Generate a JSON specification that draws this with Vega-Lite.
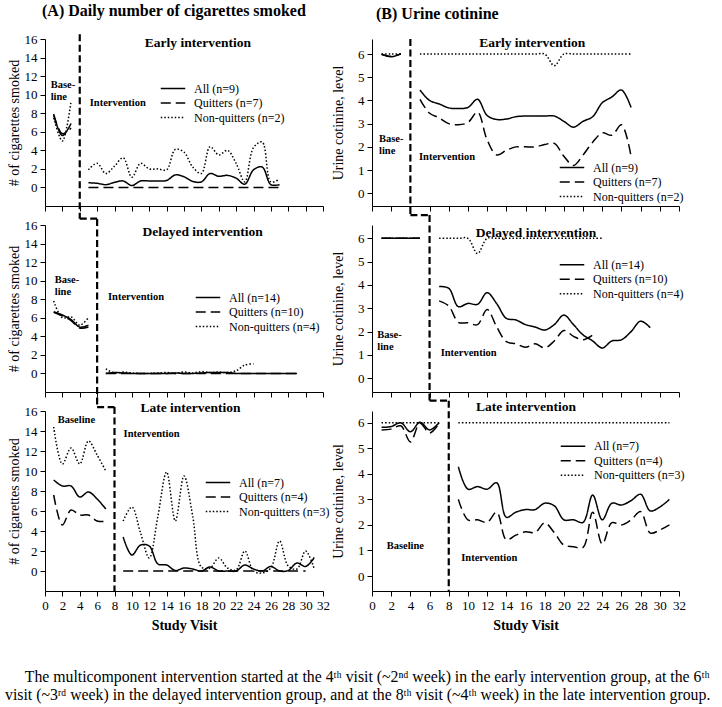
{
"$schema": "https://vega.github.io/schema/vega-lite/v6.json",
"padding": {"left": 5, "top": 3, "right": 0, "bottom": 5},
"config": {
  "font": "Liberation Serif",
  "view": {"stroke": null},
  "style": {"guide-label": {"font": "Liberation Serif"}, "guide-title": {"font": "Liberation Serif"}},
  "axis": {"grid": false, "domainColor": "#000", "tickColor": "#000", "labelColor": "#000", "titleColor": "#000", "labelFont": "Liberation Serif", "titleFont": "Liberation Serif", "labelFontSize": 13, "titleFontSize": 14, "titleFontWeight": "normal", "tickSize": 5, "labelPadding": 3, "labelFlush": false, "labelOverlap": false, "tickCount": 40, "format": "d"},
  "legend": {"orient": "none", "symbolType": "stroke", "symbolSize": 600, "symbolStrokeWidth": 1.5, "symbolStrokeColor": "#000", "labelFontSize": 12, "labelFont": "Liberation Serif", "labelColor": "#000", "rowPadding": 1.5, "clipHeight": 13, "labelOffset": 8, "padding": 0},
  "title": {"font": "Liberation Serif", "fontSize": 16, "fontWeight": "bold", "color": "#000", "offset": 14},
  "text": {"font": "Liberation Serif", "fontWeight": "bold", "fontSize": 10.5, "align": "left", "baseline": "middle", "color": "#000"}
},
"title": {"text": ["\u200b\u00a0\u00a0\u00a0\u00a0\u00a0The multicomponent intervention started at the 4\u1d57\u02b0 visit  (~2\u207f\u1d48 week) in the early intervention group, at the 6\u1d57\u02b0", "visit (~3\u02b3\u1d48 week) in the delayed intervention group, and at the 8\u1d57\u02b0 visit (~4\u1d57\u02b0 week) in the late intervention group."], "orient": "bottom", "anchor": "start", "fontSize": 15.8, "fontWeight": "normal", "lineHeight": 17.5, "offset": 38, "dx": -2},
"datasets": {
"cig": [
{"g":"E","s":"A","p":"b","v":1,"y":7.8},{"g":"E","s":"A","p":"b","v":2,"y":5.6},{"g":"E","s":"A","p":"b","v":3,"y":6.9},
{"g":"E","s":"Q","p":"b","v":1,"y":7.9},{"g":"E","s":"Q","p":"b","v":2,"y":5.8},{"g":"E","s":"Q","p":"b","v":3,"y":6.4},
{"g":"E","s":"N","p":"b","v":1,"y":7.5},{"g":"E","s":"N","p":"b","v":2,"y":5.0},{"g":"E","s":"N","p":"b","v":3,"y":9.3},
{"g":"E","s":"A","p":"i","v":5,"y":0.5},{"g":"E","s":"A","p":"i","v":6,"y":0.45},{"g":"E","s":"A","p":"i","v":7,"y":0.3},{"g":"E","s":"A","p":"i","v":8,"y":0.55},{"g":"E","s":"A","p":"i","v":9,"y":0.7},{"g":"E","s":"A","p":"i","v":10,"y":0.2},{"g":"E","s":"A","p":"i","v":11,"y":0.7},{"g":"E","s":"A","p":"i","v":12,"y":0.7},{"g":"E","s":"A","p":"i","v":13,"y":0.7},{"g":"E","s":"A","p":"i","v":14,"y":0.75},{"g":"E","s":"A","p":"i","v":15,"y":1.35},{"g":"E","s":"A","p":"i","v":16,"y":1.15},{"g":"E","s":"A","p":"i","v":17,"y":0.65},{"g":"E","s":"A","p":"i","v":18,"y":0.6},{"g":"E","s":"A","p":"i","v":19,"y":1.5},{"g":"E","s":"A","p":"i","v":20,"y":1.2},{"g":"E","s":"A","p":"i","v":21,"y":1.3},{"g":"E","s":"A","p":"i","v":22,"y":1.0},{"g":"E","s":"A","p":"i","v":23,"y":0.35},{"g":"E","s":"A","p":"i","v":24,"y":1.9},{"g":"E","s":"A","p":"i","v":25,"y":2.2},{"g":"E","s":"A","p":"i","v":26,"y":0.3},{"g":"E","s":"A","p":"i","v":27,"y":0.3},
{"g":"E","s":"Q","p":"i","v":5,"y":0},{"g":"E","s":"Q","p":"i","v":6,"y":0},{"g":"E","s":"Q","p":"i","v":7,"y":0},{"g":"E","s":"Q","p":"i","v":8,"y":0},{"g":"E","s":"Q","p":"i","v":9,"y":0},{"g":"E","s":"Q","p":"i","v":10,"y":0},{"g":"E","s":"Q","p":"i","v":11,"y":0},{"g":"E","s":"Q","p":"i","v":12,"y":0},{"g":"E","s":"Q","p":"i","v":13,"y":0},{"g":"E","s":"Q","p":"i","v":14,"y":0},{"g":"E","s":"Q","p":"i","v":15,"y":0},{"g":"E","s":"Q","p":"i","v":16,"y":0},{"g":"E","s":"Q","p":"i","v":17,"y":0},{"g":"E","s":"Q","p":"i","v":18,"y":0},{"g":"E","s":"Q","p":"i","v":19,"y":0},{"g":"E","s":"Q","p":"i","v":20,"y":0},{"g":"E","s":"Q","p":"i","v":21,"y":0},{"g":"E","s":"Q","p":"i","v":22,"y":0},{"g":"E","s":"Q","p":"i","v":23,"y":0},{"g":"E","s":"Q","p":"i","v":24,"y":0},{"g":"E","s":"Q","p":"i","v":25,"y":0},{"g":"E","s":"Q","p":"i","v":26,"y":0},{"g":"E","s":"Q","p":"i","v":27,"y":0},
{"g":"E","s":"N","p":"i","v":5,"y":1.9},{"g":"E","s":"N","p":"i","v":6,"y":2.6},{"g":"E","s":"N","p":"i","v":7,"y":1.5},{"g":"E","s":"N","p":"i","v":8,"y":2.3},{"g":"E","s":"N","p":"i","v":9,"y":3.2},{"g":"E","s":"N","p":"i","v":10,"y":1.1},{"g":"E","s":"N","p":"i","v":11,"y":2.6},{"g":"E","s":"N","p":"i","v":12,"y":2.0},{"g":"E","s":"N","p":"i","v":13,"y":2.0},{"g":"E","s":"N","p":"i","v":14,"y":1.9},{"g":"E","s":"N","p":"i","v":15,"y":4.1},{"g":"E","s":"N","p":"i","v":16,"y":3.8},{"g":"E","s":"N","p":"i","v":17,"y":2.2},{"g":"E","s":"N","p":"i","v":18,"y":1.5},{"g":"E","s":"N","p":"i","v":19,"y":4.4},{"g":"E","s":"N","p":"i","v":20,"y":3.5},{"g":"E","s":"N","p":"i","v":21,"y":4.0},{"g":"E","s":"N","p":"i","v":22,"y":2.6},{"g":"E","s":"N","p":"i","v":23,"y":0.6},{"g":"E","s":"N","p":"i","v":24,"y":4.3},{"g":"E","s":"N","p":"i","v":25,"y":4.9},{"g":"E","s":"N","p":"i","v":26,"y":0.6},{"g":"E","s":"N","p":"i","v":27,"y":0.9},
{"g":"D","s":"A","p":"b","v":1,"y":6.65},{"g":"D","s":"A","p":"b","v":2,"y":6.3},{"g":"D","s":"A","p":"b","v":3,"y":5.8},{"g":"D","s":"A","p":"b","v":4,"y":5.0},{"g":"D","s":"A","p":"b","v":5,"y":5.2},
{"g":"D","s":"Q","p":"b","v":1,"y":6.6},{"g":"D","s":"Q","p":"b","v":2,"y":6.2},{"g":"D","s":"Q","p":"b","v":3,"y":5.7},{"g":"D","s":"Q","p":"b","v":4,"y":4.9},{"g":"D","s":"Q","p":"b","v":5,"y":5.0},
{"g":"D","s":"N","p":"b","v":1,"y":7.8},{"g":"D","s":"N","p":"b","v":2,"y":6.0},{"g":"D","s":"N","p":"b","v":3,"y":6.1},{"g":"D","s":"N","p":"b","v":4,"y":5.2},{"g":"D","s":"N","p":"b","v":5,"y":6.0},
{"g":"D","s":"A","p":"i","v":7,"y":0},{"g":"D","s":"A","p":"i","v":8,"y":0.1},{"g":"D","s":"A","p":"i","v":9,"y":0.05},{"g":"D","s":"A","p":"i","v":10,"y":0},{"g":"D","s":"A","p":"i","v":11,"y":0},{"g":"D","s":"A","p":"i","v":12,"y":0},{"g":"D","s":"A","p":"i","v":13,"y":0},{"g":"D","s":"A","p":"i","v":14,"y":0},{"g":"D","s":"A","p":"i","v":15,"y":0.05},{"g":"D","s":"A","p":"i","v":16,"y":0},{"g":"D","s":"A","p":"i","v":17,"y":0},{"g":"D","s":"A","p":"i","v":18,"y":0.05},{"g":"D","s":"A","p":"i","v":19,"y":0.1},{"g":"D","s":"A","p":"i","v":20,"y":0.1},{"g":"D","s":"A","p":"i","v":21,"y":0.1},{"g":"D","s":"A","p":"i","v":22,"y":0},{"g":"D","s":"A","p":"i","v":23,"y":0},{"g":"D","s":"A","p":"i","v":24,"y":0},{"g":"D","s":"A","p":"i","v":25,"y":0},{"g":"D","s":"A","p":"i","v":26,"y":0},{"g":"D","s":"A","p":"i","v":27,"y":0},{"g":"D","s":"A","p":"i","v":28,"y":0},{"g":"D","s":"A","p":"i","v":29,"y":0},
{"g":"D","s":"Q","p":"i","v":7,"y":0},{"g":"D","s":"Q","p":"i","v":8,"y":0},{"g":"D","s":"Q","p":"i","v":9,"y":0},{"g":"D","s":"Q","p":"i","v":10,"y":0},{"g":"D","s":"Q","p":"i","v":11,"y":0},{"g":"D","s":"Q","p":"i","v":12,"y":0},{"g":"D","s":"Q","p":"i","v":13,"y":0},{"g":"D","s":"Q","p":"i","v":14,"y":0},{"g":"D","s":"Q","p":"i","v":15,"y":0},{"g":"D","s":"Q","p":"i","v":16,"y":0},{"g":"D","s":"Q","p":"i","v":17,"y":0},{"g":"D","s":"Q","p":"i","v":18,"y":0},{"g":"D","s":"Q","p":"i","v":19,"y":0},{"g":"D","s":"Q","p":"i","v":20,"y":0},{"g":"D","s":"Q","p":"i","v":21,"y":0},{"g":"D","s":"Q","p":"i","v":22,"y":0},{"g":"D","s":"Q","p":"i","v":23,"y":0},{"g":"D","s":"Q","p":"i","v":24,"y":0},{"g":"D","s":"Q","p":"i","v":25,"y":0},{"g":"D","s":"Q","p":"i","v":26,"y":0},{"g":"D","s":"Q","p":"i","v":27,"y":0},{"g":"D","s":"Q","p":"i","v":28,"y":0},{"g":"D","s":"Q","p":"i","v":29,"y":0},
{"g":"D","s":"N","p":"i","v":7,"y":0.5},{"g":"D","s":"N","p":"i","v":8,"y":0.05},{"g":"D","s":"N","p":"i","v":9,"y":0.15},{"g":"D","s":"N","p":"i","v":10,"y":0.05},{"g":"D","s":"N","p":"i","v":11,"y":0},{"g":"D","s":"N","p":"i","v":12,"y":0},{"g":"D","s":"N","p":"i","v":13,"y":0.05},{"g":"D","s":"N","p":"i","v":14,"y":0.1},{"g":"D","s":"N","p":"i","v":15,"y":0},{"g":"D","s":"N","p":"i","v":16,"y":0.15},{"g":"D","s":"N","p":"i","v":17,"y":0.05},{"g":"D","s":"N","p":"i","v":18,"y":0.2},{"g":"D","s":"N","p":"i","v":19,"y":0.1},{"g":"D","s":"N","p":"i","v":20,"y":0.15},{"g":"D","s":"N","p":"i","v":21,"y":0.1},{"g":"D","s":"N","p":"i","v":22,"y":0.3},{"g":"D","s":"N","p":"i","v":23,"y":0.9},{"g":"D","s":"N","p":"i","v":24,"y":1.05},
{"g":"L","s":"A","p":"b","v":1,"y":9.1},{"g":"L","s":"A","p":"b","v":2,"y":8.5},{"g":"L","s":"A","p":"b","v":3,"y":8.5},{"g":"L","s":"A","p":"b","v":4,"y":7.4},{"g":"L","s":"A","p":"b","v":5,"y":7.9},{"g":"L","s":"A","p":"b","v":6,"y":7.2},{"g":"L","s":"A","p":"b","v":7,"y":6.2},
{"g":"L","s":"Q","p":"b","v":1,"y":7.6},{"g":"L","s":"Q","p":"b","v":2,"y":4.6},{"g":"L","s":"Q","p":"b","v":3,"y":6.1},{"g":"L","s":"Q","p":"b","v":4,"y":5.6},{"g":"L","s":"Q","p":"b","v":5,"y":5.6},{"g":"L","s":"Q","p":"b","v":6,"y":5.0},{"g":"L","s":"Q","p":"b","v":7,"y":4.95},
{"g":"L","s":"N","p":"b","v":1,"y":14.4},{"g":"L","s":"N","p":"b","v":2,"y":10.7},{"g":"L","s":"N","p":"b","v":3,"y":12.3},{"g":"L","s":"N","p":"b","v":4,"y":10.7},{"g":"L","s":"N","p":"b","v":5,"y":13.0},{"g":"L","s":"N","p":"b","v":6,"y":11.6},{"g":"L","s":"N","p":"b","v":7,"y":10.0},
{"g":"L","s":"A","p":"i","v":9,"y":3.4},{"g":"L","s":"A","p":"i","v":10,"y":1.6},{"g":"L","s":"A","p":"i","v":11,"y":2.6},{"g":"L","s":"A","p":"i","v":12,"y":2.5},{"g":"L","s":"A","p":"i","v":13,"y":0.7},{"g":"L","s":"A","p":"i","v":14,"y":0.6},{"g":"L","s":"A","p":"i","v":15,"y":0.05},{"g":"L","s":"A","p":"i","v":16,"y":0.3},{"g":"L","s":"A","p":"i","v":17,"y":0.2},{"g":"L","s":"A","p":"i","v":18,"y":0},{"g":"L","s":"A","p":"i","v":19,"y":0.4},{"g":"L","s":"A","p":"i","v":20,"y":0},{"g":"L","s":"A","p":"i","v":21,"y":0},{"g":"L","s":"A","p":"i","v":22,"y":0},{"g":"L","s":"A","p":"i","v":23,"y":0.6},{"g":"L","s":"A","p":"i","v":24,"y":0.2},{"g":"L","s":"A","p":"i","v":25,"y":0},{"g":"L","s":"A","p":"i","v":26,"y":0.45},{"g":"L","s":"A","p":"i","v":27,"y":0},{"g":"L","s":"A","p":"i","v":28,"y":0.05},{"g":"L","s":"A","p":"i","v":29,"y":0.8},{"g":"L","s":"A","p":"i","v":30,"y":0.45},{"g":"L","s":"A","p":"i","v":31,"y":1.35},
{"g":"L","s":"Q","p":"i","v":9,"y":0},{"g":"L","s":"Q","p":"i","v":10,"y":0},{"g":"L","s":"Q","p":"i","v":11,"y":0},{"g":"L","s":"Q","p":"i","v":12,"y":0},{"g":"L","s":"Q","p":"i","v":13,"y":0},{"g":"L","s":"Q","p":"i","v":14,"y":0},{"g":"L","s":"Q","p":"i","v":15,"y":0},{"g":"L","s":"Q","p":"i","v":16,"y":0},{"g":"L","s":"Q","p":"i","v":17,"y":0},{"g":"L","s":"Q","p":"i","v":18,"y":0},{"g":"L","s":"Q","p":"i","v":19,"y":0},{"g":"L","s":"Q","p":"i","v":20,"y":0},{"g":"L","s":"Q","p":"i","v":21,"y":0},{"g":"L","s":"Q","p":"i","v":22,"y":0},{"g":"L","s":"Q","p":"i","v":23,"y":0},{"g":"L","s":"Q","p":"i","v":24,"y":0},{"g":"L","s":"Q","p":"i","v":25,"y":0},{"g":"L","s":"Q","p":"i","v":26,"y":0},{"g":"L","s":"Q","p":"i","v":27,"y":0},{"g":"L","s":"Q","p":"i","v":28,"y":0},{"g":"L","s":"Q","p":"i","v":29,"y":0},{"g":"L","s":"Q","p":"i","v":30,"y":0},
{"g":"L","s":"N","p":"i","v":9,"y":5.0},{"g":"L","s":"N","p":"i","v":10,"y":6.4},{"g":"L","s":"N","p":"i","v":11,"y":3.8},{"g":"L","s":"N","p":"i","v":12,"y":1.3},{"g":"L","s":"N","p":"i","v":13,"y":5.5},{"g":"L","s":"N","p":"i","v":14,"y":9.9},{"g":"L","s":"N","p":"i","v":15,"y":5.0},{"g":"L","s":"N","p":"i","v":16,"y":9.5},{"g":"L","s":"N","p":"i","v":17,"y":5.5},{"g":"L","s":"N","p":"i","v":18,"y":0.4},{"g":"L","s":"N","p":"i","v":19,"y":0.3},{"g":"L","s":"N","p":"i","v":20,"y":1.3},{"g":"L","s":"N","p":"i","v":21,"y":0.3},{"g":"L","s":"N","p":"i","v":22,"y":0.1},{"g":"L","s":"N","p":"i","v":23,"y":2.0},{"g":"L","s":"N","p":"i","v":24,"y":0},{"g":"L","s":"N","p":"i","v":25,"y":-0.2},{"g":"L","s":"N","p":"i","v":26,"y":0.3},{"g":"L","s":"N","p":"i","v":27,"y":3.0},{"g":"L","s":"N","p":"i","v":28,"y":0.5},{"g":"L","s":"N","p":"i","v":29,"y":0.2},{"g":"L","s":"N","p":"i","v":30,"y":2.0},{"g":"L","s":"N","p":"i","v":31,"y":0.2}
],
"cot": [
{"g":"E","s":"A","p":"b","v":1,"y":6.0},{"g":"E","s":"A","p":"b","v":2,"y":5.88},{"g":"E","s":"A","p":"b","v":3,"y":6.02},
{"g":"E","s":"Q","p":"b","v":1,"y":5.98},{"g":"E","s":"Q","p":"b","v":2,"y":5.9},{"g":"E","s":"Q","p":"b","v":3,"y":6.0},
{"g":"E","s":"N","p":"b","v":1,"y":6.0},{"g":"E","s":"N","p":"b","v":2,"y":6.0},{"g":"E","s":"N","p":"b","v":3,"y":6.0},
{"g":"E","s":"A","p":"i","v":5,"y":4.45},{"g":"E","s":"A","p":"i","v":6,"y":4.0},{"g":"E","s":"A","p":"i","v":7,"y":3.85},{"g":"E","s":"A","p":"i","v":8,"y":3.68},{"g":"E","s":"A","p":"i","v":9,"y":3.65},{"g":"E","s":"A","p":"i","v":10,"y":3.7},{"g":"E","s":"A","p":"i","v":11,"y":4.05},{"g":"E","s":"A","p":"i","v":12,"y":3.35},{"g":"E","s":"A","p":"i","v":13,"y":3.18},{"g":"E","s":"A","p":"i","v":14,"y":3.2},{"g":"E","s":"A","p":"i","v":15,"y":3.3},{"g":"E","s":"A","p":"i","v":16,"y":3.33},{"g":"E","s":"A","p":"i","v":17,"y":3.33},{"g":"E","s":"A","p":"i","v":18,"y":3.33},{"g":"E","s":"A","p":"i","v":19,"y":3.33},{"g":"E","s":"A","p":"i","v":20,"y":3.1},{"g":"E","s":"A","p":"i","v":21,"y":2.85},{"g":"E","s":"A","p":"i","v":22,"y":3.1},{"g":"E","s":"A","p":"i","v":23,"y":3.3},{"g":"E","s":"A","p":"i","v":24,"y":3.9},{"g":"E","s":"A","p":"i","v":25,"y":4.15},{"g":"E","s":"A","p":"i","v":26,"y":4.45},{"g":"E","s":"A","p":"i","v":27,"y":3.7},
{"g":"E","s":"Q","p":"i","v":5,"y":4.05},{"g":"E","s":"Q","p":"i","v":6,"y":3.45},{"g":"E","s":"Q","p":"i","v":7,"y":3.25},{"g":"E","s":"Q","p":"i","v":8,"y":3.0},{"g":"E","s":"Q","p":"i","v":9,"y":2.95},{"g":"E","s":"Q","p":"i","v":10,"y":3.05},{"g":"E","s":"Q","p":"i","v":11,"y":3.5},{"g":"E","s":"Q","p":"i","v":12,"y":2.3},{"g":"E","s":"Q","p":"i","v":13,"y":1.65},{"g":"E","s":"Q","p":"i","v":14,"y":1.85},{"g":"E","s":"Q","p":"i","v":15,"y":2.0},{"g":"E","s":"Q","p":"i","v":16,"y":2.0},{"g":"E","s":"Q","p":"i","v":17,"y":2.0},{"g":"E","s":"Q","p":"i","v":18,"y":2.1},{"g":"E","s":"Q","p":"i","v":19,"y":2.15},{"g":"E","s":"Q","p":"i","v":20,"y":1.6},{"g":"E","s":"Q","p":"i","v":21,"y":1.2},{"g":"E","s":"Q","p":"i","v":22,"y":1.65},{"g":"E","s":"Q","p":"i","v":23,"y":2.2},{"g":"E","s":"Q","p":"i","v":24,"y":2.6},{"g":"E","s":"Q","p":"i","v":25,"y":2.5},{"g":"E","s":"Q","p":"i","v":26,"y":2.95},{"g":"E","s":"Q","p":"i","v":27,"y":1.6},
{"g":"E","s":"N","p":"i","v":5,"y":6},{"g":"E","s":"N","p":"i","v":6,"y":6},{"g":"E","s":"N","p":"i","v":7,"y":6},{"g":"E","s":"N","p":"i","v":8,"y":6},{"g":"E","s":"N","p":"i","v":9,"y":6},{"g":"E","s":"N","p":"i","v":10,"y":6},{"g":"E","s":"N","p":"i","v":11,"y":6},{"g":"E","s":"N","p":"i","v":12,"y":6},{"g":"E","s":"N","p":"i","v":13,"y":6},{"g":"E","s":"N","p":"i","v":14,"y":6},{"g":"E","s":"N","p":"i","v":15,"y":6},{"g":"E","s":"N","p":"i","v":16,"y":6},{"g":"E","s":"N","p":"i","v":17,"y":6},{"g":"E","s":"N","p":"i","v":18,"y":6},{"g":"E","s":"N","p":"i","v":19,"y":5.5},{"g":"E","s":"N","p":"i","v":20,"y":6},{"g":"E","s":"N","p":"i","v":21,"y":6},{"g":"E","s":"N","p":"i","v":22,"y":6},{"g":"E","s":"N","p":"i","v":23,"y":6},{"g":"E","s":"N","p":"i","v":24,"y":6},{"g":"E","s":"N","p":"i","v":25,"y":6},{"g":"E","s":"N","p":"i","v":26,"y":6},{"g":"E","s":"N","p":"i","v":27,"y":6},
{"g":"D","s":"A","p":"b","v":1,"y":6},{"g":"D","s":"A","p":"b","v":2,"y":6},{"g":"D","s":"A","p":"b","v":3,"y":6},{"g":"D","s":"A","p":"b","v":4,"y":6},{"g":"D","s":"A","p":"b","v":5,"y":6},
{"g":"D","s":"Q","p":"b","v":1,"y":6},{"g":"D","s":"Q","p":"b","v":2,"y":6},{"g":"D","s":"Q","p":"b","v":3,"y":6},{"g":"D","s":"Q","p":"b","v":4,"y":6},{"g":"D","s":"Q","p":"b","v":5,"y":6},
{"g":"D","s":"N","p":"b","v":1,"y":6},{"g":"D","s":"N","p":"b","v":2,"y":6},{"g":"D","s":"N","p":"b","v":3,"y":6},{"g":"D","s":"N","p":"b","v":4,"y":6},{"g":"D","s":"N","p":"b","v":5,"y":6},
{"g":"D","s":"A","p":"i","v":7,"y":3.93},{"g":"D","s":"A","p":"i","v":8,"y":3.86},{"g":"D","s":"A","p":"i","v":9,"y":3.07},{"g":"D","s":"A","p":"i","v":10,"y":3.21},{"g":"D","s":"A","p":"i","v":11,"y":3.17},{"g":"D","s":"A","p":"i","v":12,"y":3.67},{"g":"D","s":"A","p":"i","v":13,"y":3.2},{"g":"D","s":"A","p":"i","v":14,"y":2.57},{"g":"D","s":"A","p":"i","v":15,"y":2.5},{"g":"D","s":"A","p":"i","v":16,"y":2.3},{"g":"D","s":"A","p":"i","v":17,"y":2.2},{"g":"D","s":"A","p":"i","v":18,"y":2.07},{"g":"D","s":"A","p":"i","v":19,"y":2.3},{"g":"D","s":"A","p":"i","v":20,"y":2.71},{"g":"D","s":"A","p":"i","v":21,"y":2.3},{"g":"D","s":"A","p":"i","v":22,"y":1.86},{"g":"D","s":"A","p":"i","v":23,"y":1.6},{"g":"D","s":"A","p":"i","v":24,"y":1.3},{"g":"D","s":"A","p":"i","v":25,"y":1.6},{"g":"D","s":"A","p":"i","v":26,"y":1.65},{"g":"D","s":"A","p":"i","v":27,"y":2.0},{"g":"D","s":"A","p":"i","v":28,"y":2.45},{"g":"D","s":"A","p":"i","v":29,"y":2.17},
{"g":"D","s":"Q","p":"i","v":7,"y":3.32},{"g":"D","s":"Q","p":"i","v":8,"y":3.1},{"g":"D","s":"Q","p":"i","v":9,"y":2.4},{"g":"D","s":"Q","p":"i","v":10,"y":2.38},{"g":"D","s":"Q","p":"i","v":11,"y":2.3},{"g":"D","s":"Q","p":"i","v":12,"y":2.95},{"g":"D","s":"Q","p":"i","v":13,"y":2.2},{"g":"D","s":"Q","p":"i","v":14,"y":1.57},{"g":"D","s":"Q","p":"i","v":15,"y":1.48},{"g":"D","s":"Q","p":"i","v":16,"y":1.33},{"g":"D","s":"Q","p":"i","v":17,"y":1.48},{"g":"D","s":"Q","p":"i","v":18,"y":1.3},{"g":"D","s":"Q","p":"i","v":19,"y":1.6},{"g":"D","s":"Q","p":"i","v":20,"y":2.05},{"g":"D","s":"Q","p":"i","v":21,"y":1.8},{"g":"D","s":"Q","p":"i","v":22,"y":1.65},{"g":"D","s":"Q","p":"i","v":23,"y":1.85},
{"g":"D","s":"N","p":"i","v":7,"y":6},{"g":"D","s":"N","p":"i","v":8,"y":6},{"g":"D","s":"N","p":"i","v":9,"y":6},{"g":"D","s":"N","p":"i","v":10,"y":6},{"g":"D","s":"N","p":"i","v":11,"y":5.35},{"g":"D","s":"N","p":"i","v":12,"y":6},{"g":"D","s":"N","p":"i","v":13,"y":6},{"g":"D","s":"N","p":"i","v":14,"y":6},{"g":"D","s":"N","p":"i","v":15,"y":6},{"g":"D","s":"N","p":"i","v":16,"y":6},{"g":"D","s":"N","p":"i","v":17,"y":6},{"g":"D","s":"N","p":"i","v":18,"y":6},{"g":"D","s":"N","p":"i","v":19,"y":6},{"g":"D","s":"N","p":"i","v":20,"y":6},{"g":"D","s":"N","p":"i","v":21,"y":6},{"g":"D","s":"N","p":"i","v":22,"y":6},{"g":"D","s":"N","p":"i","v":23,"y":6},{"g":"D","s":"N","p":"i","v":24,"y":6},
{"g":"L","s":"A","p":"b","v":1,"y":5.82},{"g":"L","s":"A","p":"b","v":2,"y":5.85},{"g":"L","s":"A","p":"b","v":3,"y":6.0},{"g":"L","s":"A","p":"b","v":4,"y":5.65},{"g":"L","s":"A","p":"b","v":5,"y":6.02},{"g":"L","s":"A","p":"b","v":6,"y":5.72},{"g":"L","s":"A","p":"b","v":7,"y":6.0},
{"g":"L","s":"Q","p":"b","v":1,"y":5.72},{"g":"L","s":"Q","p":"b","v":2,"y":5.75},{"g":"L","s":"Q","p":"b","v":3,"y":5.88},{"g":"L","s":"Q","p":"b","v":4,"y":5.25},{"g":"L","s":"Q","p":"b","v":5,"y":5.98},{"g":"L","s":"Q","p":"b","v":6,"y":5.6},{"g":"L","s":"Q","p":"b","v":7,"y":5.98},
{"g":"L","s":"N","p":"b","v":1,"y":6},{"g":"L","s":"N","p":"b","v":2,"y":6},{"g":"L","s":"N","p":"b","v":3,"y":6},{"g":"L","s":"N","p":"b","v":4,"y":6},{"g":"L","s":"N","p":"b","v":5,"y":6},{"g":"L","s":"N","p":"b","v":6,"y":6},{"g":"L","s":"N","p":"b","v":7,"y":6},
{"g":"L","s":"A","p":"i","v":9,"y":4.28},{"g":"L","s":"A","p":"i","v":10,"y":3.4},{"g":"L","s":"A","p":"i","v":11,"y":3.5},{"g":"L","s":"A","p":"i","v":12,"y":3.4},{"g":"L","s":"A","p":"i","v":13,"y":3.65},{"g":"L","s":"A","p":"i","v":14,"y":2.3},{"g":"L","s":"A","p":"i","v":15,"y":2.5},{"g":"L","s":"A","p":"i","v":16,"y":2.6},{"g":"L","s":"A","p":"i","v":17,"y":2.6},{"g":"L","s":"A","p":"i","v":18,"y":2.85},{"g":"L","s":"A","p":"i","v":19,"y":2.75},{"g":"L","s":"A","p":"i","v":20,"y":2.2},{"g":"L","s":"A","p":"i","v":21,"y":2.2},{"g":"L","s":"A","p":"i","v":22,"y":2.1},{"g":"L","s":"A","p":"i","v":23,"y":3.17},{"g":"L","s":"A","p":"i","v":24,"y":2.2},{"g":"L","s":"A","p":"i","v":25,"y":2.85},{"g":"L","s":"A","p":"i","v":26,"y":2.78},{"g":"L","s":"A","p":"i","v":27,"y":2.95},{"g":"L","s":"A","p":"i","v":28,"y":3.2},{"g":"L","s":"A","p":"i","v":29,"y":2.55},{"g":"L","s":"A","p":"i","v":30,"y":2.7},{"g":"L","s":"A","p":"i","v":31,"y":3.0},
{"g":"L","s":"Q","p":"i","v":9,"y":3.0},{"g":"L","s":"Q","p":"i","v":10,"y":2.2},{"g":"L","s":"Q","p":"i","v":11,"y":2.2},{"g":"L","s":"Q","p":"i","v":12,"y":2.1},{"g":"L","s":"Q","p":"i","v":13,"y":2.5},{"g":"L","s":"Q","p":"i","v":14,"y":1.42},{"g":"L","s":"Q","p":"i","v":15,"y":1.6},{"g":"L","s":"Q","p":"i","v":16,"y":1.73},{"g":"L","s":"Q","p":"i","v":17,"y":1.7},{"g":"L","s":"Q","p":"i","v":18,"y":2.08},{"g":"L","s":"Q","p":"i","v":19,"y":1.7},{"g":"L","s":"Q","p":"i","v":20,"y":1.21},{"g":"L","s":"Q","p":"i","v":21,"y":1.15},{"g":"L","s":"Q","p":"i","v":22,"y":1.12},{"g":"L","s":"Q","p":"i","v":23,"y":2.5},{"g":"L","s":"Q","p":"i","v":24,"y":1.25},{"g":"L","s":"Q","p":"i","v":25,"y":2.09},{"g":"L","s":"Q","p":"i","v":26,"y":2.0},{"g":"L","s":"Q","p":"i","v":27,"y":2.2},{"g":"L","s":"Q","p":"i","v":28,"y":2.52},{"g":"L","s":"Q","p":"i","v":29,"y":1.68},{"g":"L","s":"Q","p":"i","v":30,"y":1.8},{"g":"L","s":"Q","p":"i","v":31,"y":2.0},
{"g":"L","s":"N","p":"i","v":9,"y":6},{"g":"L","s":"N","p":"i","v":10,"y":6},{"g":"L","s":"N","p":"i","v":11,"y":6},{"g":"L","s":"N","p":"i","v":12,"y":6},{"g":"L","s":"N","p":"i","v":13,"y":6},{"g":"L","s":"N","p":"i","v":14,"y":6},{"g":"L","s":"N","p":"i","v":15,"y":6},{"g":"L","s":"N","p":"i","v":16,"y":6},{"g":"L","s":"N","p":"i","v":17,"y":6},{"g":"L","s":"N","p":"i","v":18,"y":6},{"g":"L","s":"N","p":"i","v":19,"y":6},{"g":"L","s":"N","p":"i","v":20,"y":6},{"g":"L","s":"N","p":"i","v":21,"y":6},{"g":"L","s":"N","p":"i","v":22,"y":6},{"g":"L","s":"N","p":"i","v":23,"y":6},{"g":"L","s":"N","p":"i","v":24,"y":6},{"g":"L","s":"N","p":"i","v":25,"y":6},{"g":"L","s":"N","p":"i","v":26,"y":6},{"g":"L","s":"N","p":"i","v":27,"y":6},{"g":"L","s":"N","p":"i","v":28,"y":6},{"g":"L","s":"N","p":"i","v":29,"y":6},{"g":"L","s":"N","p":"i","v":30,"y":6},{"g":"L","s":"N","p":"i","v":31,"y":6}
]
},
"columns": 2,
"spacing": {"row": 19, "column": 49},
"bounds": "flush",
"concat": [
{
 "width": 278, "height": 167,
 "title": {"text": "(A) Daily number of cigarettes smoked", "anchor": "start", "frame": "group", "dx": -3},
 "layer": [
  {"data": {"name": "cig"}, "transform": [{"filter": "datum.g == 'E'"}],
   "mark": {"type": "line", "interpolate": "catmull-rom", "color": "#000", "strokeWidth": 1.5, "clip": false},
   "encoding": {
    "x": {"field": "v", "type": "quantitative", "scale": {"domain": [0, 32], "nice": false}, "axis": {"values": [0,2,4,6,8,10,12,14,16,18,20,22,24,26,28,30,32], "tickCount": 40, "format": "d", "labels": false, "title": null, "labelOverlap": false}},
    "y": {"field": "y", "type": "quantitative", "scale": {"domain": [-2, 16], "nice": false}, "axis": {"values": [0,2,4,6,8,10,12,14,16], "tickCount": 40, "format": "d", "title": "# of cigarettes smoked", "titlePadding": 3, "labelOverlap": false}},
    "strokeDash": {"field": "s", "type": "nominal", "scale": {"domain": ["A","Q","N"], "range": [[1,0],[10,5],[1.5,2]]}, "legend": {"title": null, "legendX": 115, "legendY": 43, "labelExpr": "datum.label == 'A' ? 'All (n=9)' : datum.label == 'Q' ? 'Quitters (n=7)' : 'Non-quitters (n=2)'"}},
    "detail": {"field": "p"}
   }},
  {"data": {"values": [{}]}, "mark": {"type": "rule", "color": "#000", "strokeWidth": 2.2, "strokeDash": [7, 3.5], "clip": false}, "encoding": {"x": {"datum": 4}, "y": {"datum": 16.5}, "y2": {"datum": -3.37}}},
  {"data": {"values": [{}]}, "mark": {"type": "rule", "color": "#000", "strokeWidth": 2.2, "strokeDash": [7, 3.5], "clip": false}, "encoding": {"x": {"datum": 4}, "x2": {"datum": 6}, "y": {"datum": -3.37}}},
  {"data": {"values": [{}]}, "mark": {"type": "text", "text": "Early intervention", "fontSize": 13.5, "align": "center"}, "encoding": {"x": {"datum": 17.6}, "y": {"datum": 15.6}}},
  {"data": {"values": [{}]}, "mark": {"type": "text", "text": ["Base-", "line"], "lineHeight": 12}, "encoding": {"x": {"datum": 0.65}, "y": {"datum": 11.03}}},
  {"data": {"values": [{}]}, "mark": {"type": "text", "text": "Intervention"}, "encoding": {"x": {"datum": 5.15}, "y": {"datum": 9.1}}}
 ]
},
{
 "width": 307, "height": 167,
 "title": {"text": "(B) Urine cotinine", "anchor": "start", "frame": "group", "dx": 4},
 "layer": [
  {"data": {"name": "cot"}, "transform": [{"filter": "datum.g == 'E'"}],
   "mark": {"type": "line", "interpolate": "catmull-rom", "color": "#000", "strokeWidth": 1.5, "clip": false},
   "encoding": {
    "x": {"field": "v", "type": "quantitative", "scale": {"domain": [0, 32], "nice": false}, "axis": {"values": [0,2,4,6,8,10,12,14,16,18,20,22,24,26,28,30,32], "tickCount": 40, "format": "d", "labels": false, "title": null, "labelOverlap": false}},
    "y": {"field": "y", "type": "quantitative", "scale": {"domain": [-0.547, 6.647], "nice": false, "zero": false}, "axis": {"values": [0,1,2,3,4,5,6], "tickCount": 40, "format": "d", "title": "Urine cotinine, level", "titlePadding": 12, "labelOverlap": false}},
    "strokeDash": {"field": "s", "type": "nominal", "scale": {"domain": ["A","Q","N"], "range": [[1,0],[10,5],[1.5,2]]}, "legend": {"title": null, "legendX": 187, "legendY": 122, "labelExpr": "datum.label == 'A' ? 'All (n=9)' : datum.label == 'Q' ? 'Quitters (n=7)' : 'Non-quitters (n=2)'"}},
    "detail": {"field": "p"}
   }},
  {"data": {"values": [{}]}, "mark": {"type": "rule", "color": "#000", "strokeWidth": 2.2, "strokeDash": [7, 3.5], "clip": false}, "encoding": {"x": {"datum": 4}, "y": {"datum": 6.647}, "y2": {"datum": -0.936}}},
  {"data": {"values": [{}]}, "mark": {"type": "rule", "color": "#000", "strokeWidth": 2.2, "strokeDash": [7, 3.5], "clip": false}, "encoding": {"x": {"datum": 4}, "x2": {"datum": 6}, "y": {"datum": -0.936}}},
  {"data": {"values": [{}]}, "mark": {"type": "text", "text": "Early intervention", "fontSize": 13.5, "align": "center"}, "encoding": {"x": {"datum": 16.7}, "y": {"datum": 6.49}}},
  {"data": {"values": [{}]}, "mark": {"type": "text", "text": ["Base-", "line"], "lineHeight": 12}, "encoding": {"x": {"datum": 0.73}, "y": {"datum": 2.34}}},
  {"data": {"values": [{}]}, "mark": {"type": "text", "text": "Intervention"}, "encoding": {"x": {"datum": 4.9}, "y": {"datum": 1.58}}}
 ]
},
{
 "width": 278, "height": 167,
 "layer": [
  {"data": {"name": "cig"}, "transform": [{"filter": "datum.g == 'D'"}],
   "mark": {"type": "line", "interpolate": "catmull-rom", "color": "#000", "strokeWidth": 1.5, "clip": false},
   "encoding": {
    "x": {"field": "v", "type": "quantitative", "scale": {"domain": [0, 32], "nice": false}, "axis": {"values": [0,2,4,6,8,10,12,14,16,18,20,22,24,26,28,30,32], "tickCount": 40, "format": "d", "labels": false, "title": null, "labelOverlap": false}},
    "y": {"field": "y", "type": "quantitative", "scale": {"domain": [-2, 16], "nice": false}, "axis": {"values": [0,2,4,6,8,10,12,14,16], "tickCount": 40, "format": "d", "title": "# of cigarettes smoked", "titlePadding": 3, "labelOverlap": false}},
    "strokeDash": {"field": "s", "type": "nominal", "scale": {"domain": ["A","Q","N"], "range": [[1,0],[10,5],[1.5,2]]}, "legend": {"title": null, "legendX": 150, "legendY": 66, "labelExpr": "datum.label == 'A' ? 'All (n=14)' : datum.label == 'Q' ? 'Quitters (n=10)' : 'Non-quitters (n=4)'"}},
    "detail": {"field": "p"}
   }},
  {"data": {"values": [{}]}, "mark": {"type": "rule", "color": "#000", "strokeWidth": 2.2, "strokeDash": [7, 3.5], "clip": false}, "encoding": {"x": {"datum": 6}, "y": {"datum": 16.65}, "y2": {"datum": -3.62}}},
  {"data": {"values": [{}]}, "mark": {"type": "rule", "color": "#000", "strokeWidth": 2.2, "strokeDash": [7, 3.5], "clip": false}, "encoding": {"x": {"datum": 6}, "x2": {"datum": 8}, "y": {"datum": -3.62}}},
  {"data": {"values": [{}]}, "mark": {"type": "text", "text": "Delayed intervention", "fontSize": 13.5, "align": "center"}, "encoding": {"x": {"datum": 18.15}, "y": {"datum": 15.2}}},
  {"data": {"values": [{}]}, "mark": {"type": "text", "text": ["Base-", "line"], "lineHeight": 12}, "encoding": {"x": {"datum": 1.12}, "y": {"datum": 10.05}}},
  {"data": {"values": [{}]}, "mark": {"type": "text", "text": "Intervention"}, "encoding": {"x": {"datum": 7.25}, "y": {"datum": 8.2}}}
 ]
},
{
 "width": 307, "height": 167,
 "layer": [
  {"data": {"name": "cot"}, "transform": [{"filter": "datum.g == 'D'"}],
   "mark": {"type": "line", "interpolate": "catmull-rom", "color": "#000", "strokeWidth": 1.5, "clip": false},
   "encoding": {
    "x": {"field": "v", "type": "quantitative", "scale": {"domain": [0, 32], "nice": false}, "axis": {"values": [0,2,4,6,8,10,12,14,16,18,20,22,24,26,28,30,32], "tickCount": 40, "format": "d", "labels": false, "title": null, "labelOverlap": false}},
    "y": {"field": "y", "type": "quantitative", "scale": {"domain": [-0.587, 6.57], "nice": false, "zero": false}, "axis": {"values": [0,1,2,3,4,5,6], "tickCount": 40, "format": "d", "title": "Urine cotinine, level", "titlePadding": 12, "labelOverlap": false}},
    "strokeDash": {"field": "s", "type": "nominal", "scale": {"domain": ["A","Q","N"], "range": [[1,0],[10,5],[1.5,2]]}, "legend": {"title": null, "legendX": 187, "legendY": 33.3, "labelExpr": "datum.label == 'A' ? 'All (n=14)' : datum.label == 'Q' ? 'Quitters (n=10)' : 'Non-quitters (n=4)'"}},
    "detail": {"field": "p"}
   }},
  {"data": {"values": [{}]}, "mark": {"type": "rule", "color": "#000", "strokeWidth": 2.2, "strokeDash": [7, 3.5], "clip": false}, "encoding": {"x": {"datum": 6}, "y": {"datum": 7.0}, "y2": {"datum": -0.96}}},
  {"data": {"values": [{}]}, "mark": {"type": "rule", "color": "#000", "strokeWidth": 2.2, "strokeDash": [7, 3.5], "clip": false}, "encoding": {"x": {"datum": 6}, "x2": {"datum": 8}, "y": {"datum": -0.96}}},
  {"data": {"values": [{}]}, "mark": {"type": "text", "text": "Delayed intervention", "fontSize": 13.5, "align": "center"}, "encoding": {"x": {"datum": 17.1}, "y": {"datum": 6.21}}},
  {"data": {"values": [{}]}, "mark": {"type": "text", "text": ["Base-", "line"], "lineHeight": 12}, "encoding": {"x": {"datum": 0.55}, "y": {"datum": 1.87}}},
  {"data": {"values": [{}]}, "mark": {"type": "text", "text": "Intervention"}, "encoding": {"x": {"datum": 7.16}, "y": {"datum": 1.07}}}
 ]
},
{
 "width": 278, "height": 180,
 "layer": [
  {"data": {"name": "cig"}, "transform": [{"filter": "datum.g == 'L'"}],
   "mark": {"type": "line", "interpolate": "catmull-rom", "color": "#000", "strokeWidth": 1.5, "clip": false},
   "encoding": {
    "x": {"field": "v", "type": "quantitative", "scale": {"domain": [0, 32], "nice": false}, "axis": {"values": [0,2,4,6,8,10,12,14,16,18,20,22,24,26,28,30,32], "tickCount": 40, "format": "d", "title": "Study Visit", "titleFontWeight": "bold", "titlePadding": 6, "labelOverlap": false}},
    "y": {"field": "y", "type": "quantitative", "scale": {"domain": [-2, 16], "nice": false}, "axis": {"values": [0,2,4,6,8,10,12,14,16], "tickCount": 40, "format": "d", "title": "# of cigarettes smoked", "titlePadding": 3, "labelOverlap": false}},
    "strokeDash": {"field": "s", "type": "nominal", "scale": {"domain": ["A","Q","N"], "range": [[1,0],[10,5],[1.5,2]]}, "legend": {"title": null, "legendX": 160, "legendY": 65, "labelExpr": "datum.label == 'A' ? 'All (n=7)' : datum.label == 'Q' ? 'Quitters (n=4)' : 'Non-quitters (n=3)'"}},
    "detail": {"field": "p"}
   }},
  {"data": {"values": [{}]}, "mark": {"type": "rule", "color": "#000", "strokeWidth": 2.2, "strokeDash": [7, 3.5], "clip": false}, "encoding": {"x": {"datum": 8}, "y": {"datum": 16.4}, "y2": {"datum": -2}}},
  {"data": {"values": [{}]}, "mark": {"type": "text", "text": "Late intervention", "fontSize": 13.5, "align": "center"}, "encoding": {"x": {"datum": 16.75}, "y": {"datum": 16.35}}},
  {"data": {"values": [{}]}, "mark": {"type": "text", "text": "Baseline"}, "encoding": {"x": {"datum": 1.47}, "y": {"datum": 15.1}}},
  {"data": {"values": [{}]}, "mark": {"type": "text", "text": "Intervention"}, "encoding": {"x": {"datum": 9.05}, "y": {"datum": 13.67}}}
 ]
},
{
 "width": 307, "height": 180,
 "layer": [
  {"data": {"name": "cot"}, "transform": [{"filter": "datum.g == 'L'"}],
   "mark": {"type": "line", "interpolate": "catmull-rom", "color": "#000", "strokeWidth": 1.5, "clip": false},
   "encoding": {
    "x": {"field": "v", "type": "quantitative", "scale": {"domain": [0, 32], "nice": false}, "axis": {"values": [0,2,4,6,8,10,12,14,16,18,20,22,24,26,28,30,32], "tickCount": 40, "format": "d", "title": "Study Visit", "titleFontWeight": "bold", "titlePadding": 6, "labelOverlap": false}},
    "y": {"field": "y", "type": "quantitative", "scale": {"domain": [-0.587, 6.46], "nice": false, "zero": false}, "axis": {"values": [0,1,2,3,4,5,6], "tickCount": 40, "format": "d", "title": "Urine cotinine, level", "titlePadding": 12, "labelOverlap": false}},
    "strokeDash": {"field": "s", "type": "nominal", "scale": {"domain": ["A","Q","N"], "range": [[1,0],[10,5],[1.5,2]]}, "legend": {"title": null, "legendX": 188, "legendY": 28.7, "labelExpr": "datum.label == 'A' ? 'All (n=7)' : datum.label == 'Q' ? 'Quitters (n=4)' : 'Non-quitters (n=3)'"}},
    "detail": {"field": "p"}
   }},
  {"data": {"values": [{}]}, "mark": {"type": "rule", "color": "#000", "strokeWidth": 2.2, "strokeDash": [7, 3.5], "clip": false}, "encoding": {"x": {"datum": 8}, "y": {"datum": 6.86}, "y2": {"datum": -0.587}}},
  {"data": {"values": [{}]}, "mark": {"type": "text", "text": "Late intervention", "fontSize": 13.5, "align": "center"}, "encoding": {"x": {"datum": 16.05}, "y": {"datum": 6.6}}},
  {"data": {"values": [{}]}, "mark": {"type": "text", "text": "Baseline"}, "encoding": {"x": {"datum": 1.53}, "y": {"datum": 1.19}}},
  {"data": {"values": [{}]}, "mark": {"type": "text", "text": "Intervention"}, "encoding": {"x": {"datum": 9.3}, "y": {"datum": 0.72}}}
 ]
}
],
"resolve": {"scale": {"strokeDash": "independent"}, "legend": {"strokeDash": "independent"}}
}
